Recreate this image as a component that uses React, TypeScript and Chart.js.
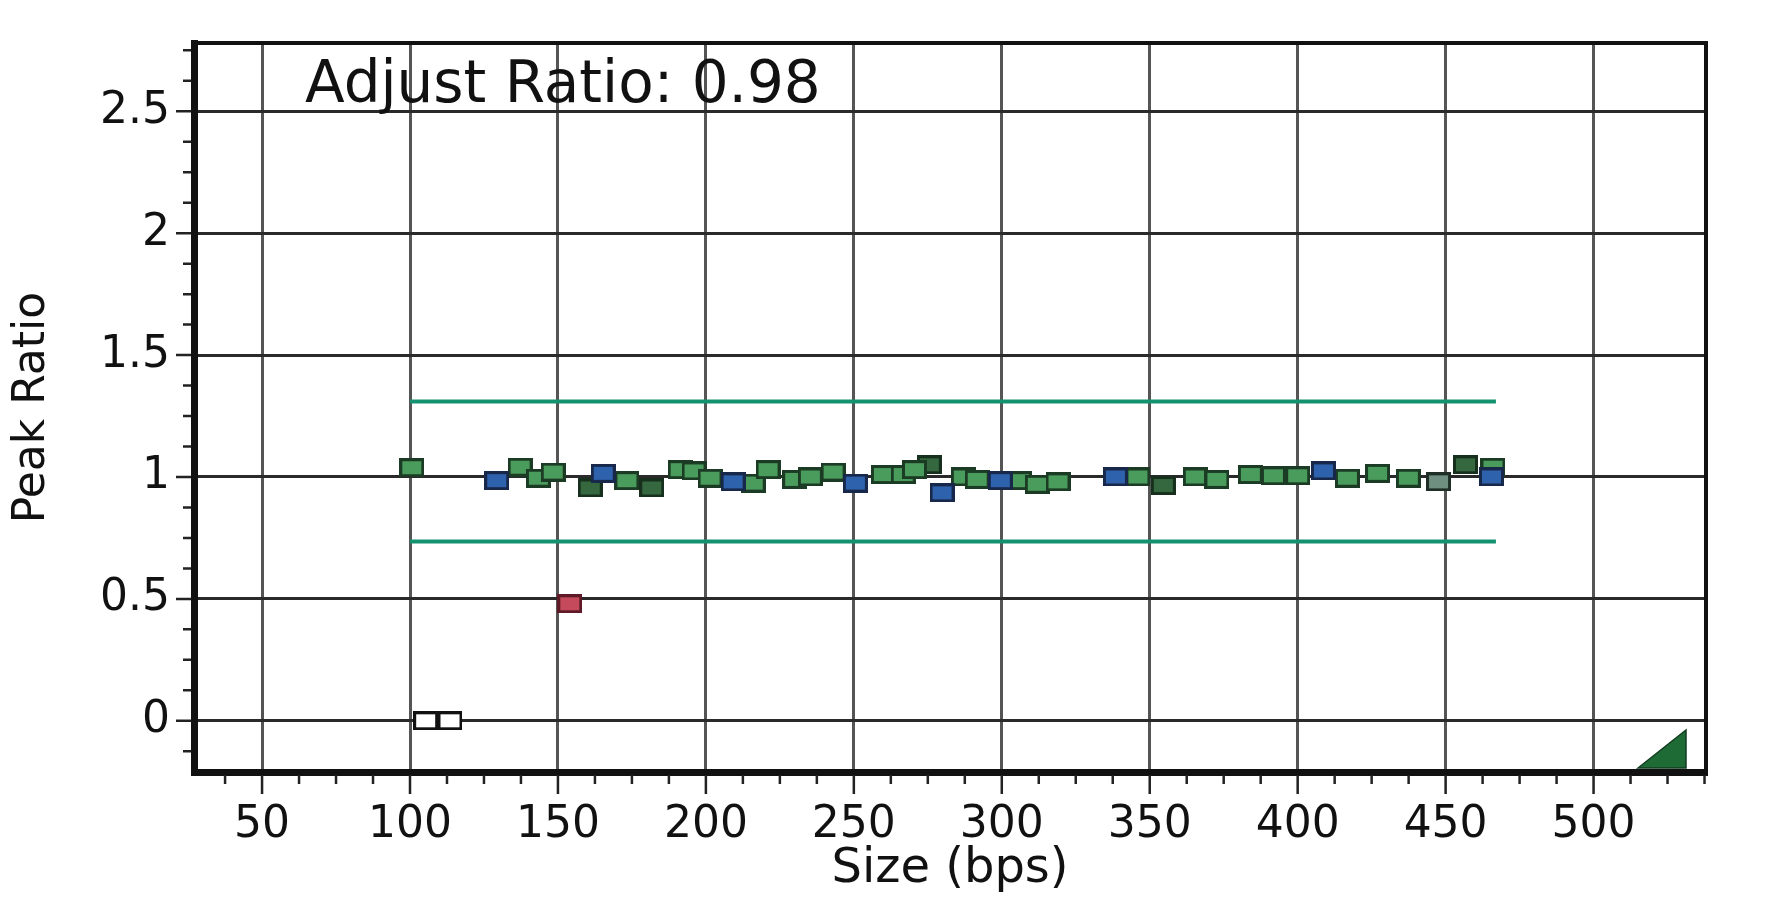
import React, { useEffect, useRef } from 'react';
import { Chart, registerables } from 'chart.js';

Chart.register(...registerables);

// ---- Data ----
const X_TICKS = [50, 100, 150, 200, 250, 300, 350, 400, 450, 500];
const Y_TICKS = [0, 0.5, 1, 1.5, 2, 2.5];

const GREEN_SIZE = [100.6, 137.2, 143.4, 148.4, 173.3, 191.3, 196, 201.4, 216, 221, 230, 235.3, 243, 260, 266.7, 270.5, 287, 291.7, 306, 312, 319, 346, 365.4, 372.7, 384, 391.8, 400, 416.8, 427, 437.4, 466];
const GREEN_RATIO = [1.038, 1.04, 0.995, 1.02, 0.985, 1.03, 1.025, 0.995, 0.975, 1.03, 0.99, 1.0, 1.02, 1.01, 1.01, 1.03, 1.0, 0.99, 0.985, 0.97, 0.98, 1.0, 1.0, 0.99, 1.01, 1.005, 1.005, 0.995, 1.015, 0.995, 1.04];

const DARK_SIZE = [160.9, 181.7, 275.5, 354.6, 456.7];
const DARK_RATIO = [0.955, 0.955, 1.05, 0.965, 1.05];

const GRAY_SIZE = [447.6];
const GRAY_RATIO = [0.98];

const BLUE_SIZE = [129.3, 165.3, 209.2, 250.5, 279.8, 299.5, 338.4, 408.7, 465.5];
const BLUE_RATIO = [0.985, 1.015, 0.98, 0.975, 0.935, 0.985, 1.0, 1.025, 1.0];

const RED_SIZE = [154];
const RED_RATIO = [0.48];

const WHITE_SIZE = [105.3, 113.5];
const WHITE_RATIO = [0, 0];

const LIMIT_SIZE = [100, 467];
const UPPER_LIMIT = [1.31, 1.31];
const LOWER_LIMIT = [0.735, 0.735];

const ADJUST_TEXT = 'Adjust Ratio: 0.98';

const X_MIN = 27;
const X_MAX = 538;
const Y_MIN = -0.21;
const Y_MAX = 2.78;
const X_MINOR_STEP = 12.5;
const Y_MINOR_STEP = 0.125;

const FONT = '"DejaVu Sans", "Liberation Sans", Arial, sans-serif';

function pts(xs: number[], ys: number[]) {
  return xs.map((x, i) => ({ x, y: ys[i] }));
}

function makeSquare(fill: string, stroke: string): HTMLCanvasElement {
  const c = document.createElement('canvas');
  c.width = 25;
  c.height = 19;
  const g = c.getContext('2d')!;
  g.fillStyle = fill;
  g.fillRect(1, 1, 23, 17);
  g.strokeStyle = stroke;
  g.lineWidth = 3;
  g.strokeRect(1.5, 1.5, 22, 16);
  return c;
}

const decorPlugin = {
  id: 'decor',
  afterDraw(chart: any) {
    const { ctx, chartArea, scales } = chart;
    const { left, top, right, bottom } = chartArea;
    const xs = scales.x;
    const ys = scales.y;
    ctx.save();
    // top & right frame
    ctx.strokeStyle = '#111';
    ctx.lineWidth = 4;
    ctx.beginPath();
    ctx.moveTo(left, top);
    ctx.lineTo(right, top);
    ctx.lineTo(right, bottom);
    ctx.stroke();

    // tick marks
    ctx.strokeStyle = '#222';
    ctx.lineWidth = 2.5;
    ctx.beginPath();
    const x0 = Math.ceil(X_MIN / X_MINOR_STEP) * X_MINOR_STEP;
    for (let v = x0; v <= X_MAX; v += X_MINOR_STEP) {
      const px = xs.getPixelForValue(v);
      const major = X_TICKS.includes(v);
      ctx.moveTo(px, bottom + 3);
      ctx.lineTo(px, bottom + (major ? 22 : 12));
    }
    const y0 = Math.ceil(Y_MIN / Y_MINOR_STEP) * Y_MINOR_STEP;
    for (let v = y0; v <= Y_MAX; v += Y_MINOR_STEP) {
      const py = ys.getPixelForValue(v);
      const major = Y_TICKS.includes(v);
      ctx.moveTo(left - 3, py);
      ctx.lineTo(left - (major ? 18 : 11), py);
    }
    ctx.stroke();

    // corner triangle
    ctx.fillStyle = '#1f6b36';
    ctx.strokeStyle = '#123d20';
    ctx.lineWidth = 1.5;
    ctx.beginPath();
    ctx.moveTo(right - 68, bottom - 4);
    ctx.lineTo(right - 20, bottom - 42);
    ctx.lineTo(right - 20, bottom - 4);
    ctx.closePath();
    ctx.fill();
    ctx.stroke();

    // adjust ratio label
    ctx.fillStyle = '#111';
    ctx.font = `58px ${FONT}`;
    ctx.textAlign = 'left';
    ctx.textBaseline = 'alphabetic';
    ctx.fillText(ADJUST_TEXT, left + 111, top + 59);
    ctx.restore();
  },
};

export default function App() {
  const ref = useRef<HTMLCanvasElement | null>(null);

  useEffect(() => {
    if (!ref.current) return;
    const green = makeSquare('#4a9c5c', '#1c3b24');
    const dark = makeSquare('#35683f', '#17301d');
    const gray = makeSquare('#6f8f80', '#1f2f27');
    const blue = makeSquare('#2f62ad', '#18284a');
    const red = makeSquare('#c54a5c', '#5e1a26');
    const white = makeSquare('#ffffff', '#111111');

    const pointDs = (data: any, style: HTMLCanvasElement) => ({
      data,
      showLine: false,
      pointStyle: style,
      pointRadius: 10,
      pointHoverRadius: 10,
    });

    const chart = new Chart(ref.current, {
      type: 'scatter',
      data: {
        datasets: [
          pointDs(pts(WHITE_SIZE, WHITE_RATIO), white),
          pointDs(pts(RED_SIZE, RED_RATIO), red),
          pointDs(pts(BLUE_SIZE, BLUE_RATIO), blue),
          pointDs(pts(GREEN_SIZE, GREEN_RATIO), green),
          pointDs(pts(DARK_SIZE, DARK_RATIO), dark),
          pointDs(pts(GRAY_SIZE, GRAY_RATIO), gray),
          {
            data: pts(LIMIT_SIZE, UPPER_LIMIT),
            showLine: true,
            borderColor: '#14916e',
            borderWidth: 4,
            pointRadius: 0,
          },
          {
            data: pts(LIMIT_SIZE, LOWER_LIMIT),
            showLine: true,
            borderColor: '#14916e',
            borderWidth: 4,
            pointRadius: 0,
          },
        ] as any,
      },
      options: {
        animation: false,
        responsive: true,
        maintainAspectRatio: false,
        layout: { padding: { left: 0, top: 43, right: 66, bottom: 0 } },
        plugins: { legend: { display: false }, tooltip: { enabled: false } },
        scales: {
          x: {
            type: 'linear',
            min: X_MIN,
            max: X_MAX,
            afterBuildTicks: (s: any) => {
              s.ticks = X_TICKS.map((v) => ({ value: v }));
            },
            afterFit: (s: any) => {
              s.height = 132;
              s.paddingLeft = 0;
              s.paddingRight = 0;
            },
            grid: { color: '#555', lineWidth: 3, drawTicks: false },
            border: { color: '#111', width: 7 },
            ticks: {
              padding: 27,
              color: '#111',
              font: { family: FONT, size: 44 },
              maxRotation: 0,
              autoSkip: false,
              callback: (v: any) => String(v),
            },
            title: {
              display: true,
              text: 'Size (bps)',
              color: '#111',
              font: { family: FONT, size: 48 },
              padding: { top: 0, bottom: 6 },
            },
          },
          y: {
            type: 'linear',
            min: Y_MIN,
            max: Y_MAX,
            afterBuildTicks: (s: any) => {
              s.ticks = Y_TICKS.map((v) => ({ value: v }));
            },
            afterFit: (s: any) => {
              s.width = 194;
              s.paddingTop = 0;
              s.paddingBottom = 0;
            },
            grid: { color: '#2a2a2a', lineWidth: 3, drawTicks: false },
            border: { color: '#111', width: 7 },
            ticks: {
              padding: 24,
              color: '#111',
              font: { family: FONT, size: 44 },
              autoSkip: false,
              callback: (v: any) => String(v),
            },
            title: {
              display: true,
              text: 'Peak Ratio',
              color: '#111',
              font: { family: FONT, size: 44 },
              padding: { top: 6, bottom: 0 },
            },
          },
        },
      } as any,
      plugins: [decorPlugin],
    });
    return () => chart.destroy();
  }, []);

  return (
    <div style={{ position: 'absolute', left: 0, top: 0, width: 1772, height: 904, background: '#fff' }}>
      <canvas ref={ref} />
    </div>
  );
}
